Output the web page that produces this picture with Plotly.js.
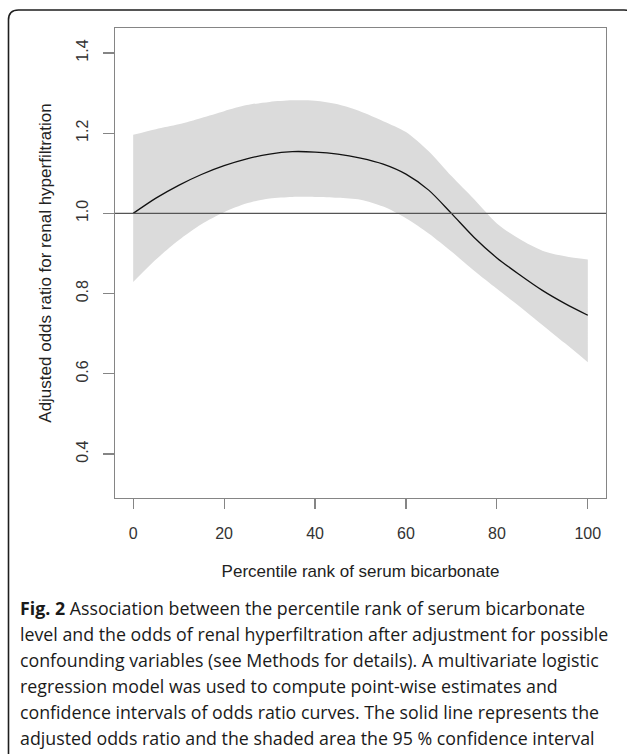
<!DOCTYPE html>
<html>
<head>
<meta charset="utf-8">
<script src="https://cdn.plot.ly/plotly-3.0.1.min.js"></script>
<style>
html,body{margin:0;padding:0;background:#fff;}
#chart{width:627px;height:754px;}
</style>
</head>
<body>
<div id="chart"></div>
<script>
// Percentile rank of serum bicarbonate
const percentile = [0,5,10,15,20,25,30,35,40,45,50,55,60,65,70,75,80,85,90,95,100];
// Adjusted odds ratio (solid line)
const oddsRatio = [1.000,1.038,1.070,1.097,1.119,1.136,1.148,1.154,1.153,1.148,1.138,1.123,1.098,1.058,1.000,0.940,0.889,0.847,0.808,0.775,0.746];
// 95% confidence interval
const upperCI = [1.196,1.210,1.222,1.238,1.255,1.270,1.278,1.282,1.281,1.272,1.254,1.230,1.203,1.155,1.093,1.035,0.975,0.936,0.907,0.893,0.885];
const lowerCI = [0.829,0.885,0.933,0.973,1.003,1.025,1.037,1.041,1.041,1.039,1.034,1.017,0.988,0.950,0.905,0.857,0.812,0.768,0.722,0.676,0.629];
const referenceOR = 1.0;
const xTicks = [0,20,40,60,80,100];
const yTicks = [0.4,0.6,0.8,1.0,1.2,1.4];
const yTickText = ["0.4","0.6","0.8","1.0","1.2","1.4"];
const xTitle = "Percentile rank of serum bicarbonate";
const yTitle = "Adjusted odds ratio for renal hyperfiltration";
const captionLines = [
  "<b>Fig. 2</b> Association between the percentile rank of serum bicarbonate",
  "level and the odds of renal hyperfiltration after adjustment for possible",
  "confounding variables (see Methods for details). A multivariate logistic",
  "regression model was used to compute point-wise estimates and",
  "confidence intervals of odds ratio curves. The solid line represents the",
  "adjusted odds ratio and the shaded area the 95 % confidence interval"
];

// layout geometry (pixels)
const W = 627, H = 754;
const L = 115, R = 21, T = 28, B = 256;
const pw = W - L - R, ph = H - T - B;
const px = v => (v - L) / pw;
const py = v => (H - B - v) / ph;

const traces = [
  {x: percentile, y: upperCI, type: 'scatter', mode: 'lines',
   line: {width: 0, color: 'rgba(0,0,0,0)', shape: 'spline', smoothing: 0.8}, hoverinfo: 'skip'},
  {x: percentile, y: lowerCI, type: 'scatter', mode: 'lines', fill: 'tonexty',
   fillcolor: '#DBDBDB', line: {width: 0, color: 'rgba(0,0,0,0)', shape: 'spline', smoothing: 0.8}, hoverinfo: 'skip'},
  {x: percentile, y: oddsRatio, type: 'scatter', mode: 'lines',
   line: {color: '#111', width: 1.3, shape: 'spline', smoothing: 0.8}}
];

// frame with rounded top-left corner
const fx0 = px(8.5), fy0 = py(10), fx1 = px(634), fy1 = py(772);
const rx = 10 / pw, ry = 10 / ph;
const framePath = `M ${fx0},${fy1} L ${fx0},${fy0 - ry} Q ${fx0},${fy0} ${fx0 + rx},${fy0} L ${fx1 - rx},${fy0} Q ${fx1},${fy0} ${fx1},${fy0 - ry} L ${fx1},${fy1} Z`;

const captionTop = 608, captionStep = 26;
const annotations = captionLines.map((t, i) => ({
  text: t, xref: 'paper', yref: 'paper', x: px(18), y: py(captionTop + i * captionStep),
  xanchor: 'left', yanchor: 'middle', showarrow: false,
  font: {family: 'Open Sans', size: 17.8, color: '#1a1a1a'}
}));

const axisFont = {family: 'Liberation Sans, Arial', size: 16, color: '#333'};

const layout = {
  width: W, height: H,
  margin: {l: L, r: R, t: T, b: B, pad: 0},
  paper_bgcolor: '#fff', plot_bgcolor: '#fff',
  showlegend: false,
  xaxis: {
    range: [-4, 104], tickvals: xTicks, ticktext: xTicks.map(String),
    showgrid: false, zeroline: false, showline: true, mirror: true,
    linecolor: '#858585', linewidth: 1.3,
    ticks: 'outside', ticklen: 10, tickwidth: 1.2, tickcolor: '#858585',
    tickfont: axisFont, ticklabelstandoff: 10,
    title: {text: xTitle, font: {family: 'Liberation Sans, Arial', size: 17, color: '#222'}, standoff: 24}
  },
  yaxis: {
    range: [0.2903, 1.4623], tickvals: yTicks, ticktext: yTickText,
    showgrid: false, zeroline: false, showline: true, mirror: true,
    linecolor: '#858585', linewidth: 1.3,
    ticks: 'outside', ticklen: 11, tickwidth: 1.2, tickcolor: '#858585',
    tickfont: axisFont, tickangle: -90, ticklabelstandoff: 8,
    title: {text: yTitle, font: {family: 'Liberation Sans, Arial', size: 17, color: '#222'}, standoff: 18}
  },
  shapes: [
    {type: 'line', xref: 'paper', yref: 'y', x0: 0, x1: 1, y0: referenceOR, y1: referenceOR,
     line: {color: '#555', width: 1.4}, layer: 'above'},
    {type: 'path', xref: 'paper', yref: 'paper', path: framePath,
     line: {color: '#1e1e1e', width: 1.6}, fillcolor: 'rgba(0,0,0,0)'}
  ],
  annotations: annotations
};

Plotly.newPlot('chart', traces, layout, {displayModeBar: false, staticPlot: true});
</script>
</body>
</html>
